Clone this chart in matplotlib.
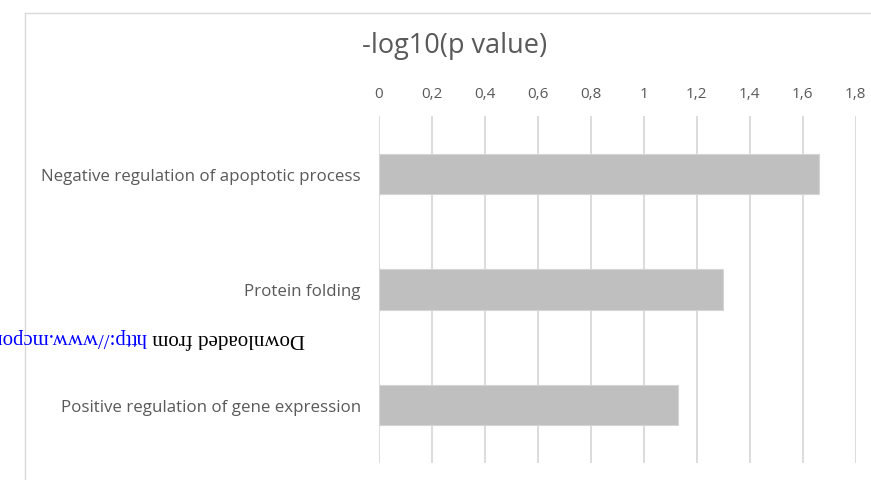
import matplotlib.pyplot as plt
from matplotlib.lines import Line2D

# GO terms and their enrichment scores
terms = ["Negative regulation of apoptotic process",
         "Protein folding",
         "Positive regulation of gene expression"]
scores = [1.662, 1.301, 1.130]

xticks = [0, 0.2, 0.4, 0.6, 0.8, 1.0, 1.2, 1.4, 1.6, 1.8]
xtick_labels = ["0", "0,2", "0,4", "0,6", "0,8", "1", "1,2", "1,4", "1,6", "1,8"]

W, H = 871, 481
fig = plt.figure(figsize=(W / 100, H / 100), dpi=100)
fig.patch.set_facecolor("white")

ax = fig.add_axes([379 / W, 1 - 464 / H, (855.5 - 379) / W, (464 - 117) / H])
ypos = list(range(len(terms)))
ax.barh(ypos, scores, height=0.35, color="#bfbfbf", edgecolor="#d4d4d4",
        linewidth=0.8, zorder=3)
ax.set_ylim(len(terms) - 0.5, -0.5)
ax.set_xlim(0, 1.8)

ax.set_xticks(xticks)
ax.set_xticklabels(xtick_labels)
ax.xaxis.tick_top()
ax.tick_params(axis="x", length=0, pad=11, labelsize=11, labelcolor="#595959")
ax.set_yticks(ypos)
ax.set_yticklabels(terms)
ax.tick_params(axis="y", length=0, pad=13, labelsize=12.2, labelcolor="#595959")
for lbl in ax.get_xticklabels() + ax.get_yticklabels():
    lbl.set_family("Open Sans")

ax.grid(axis="x", color="#d9d9d9", linewidth=1.3, zorder=0)
ax.grid(axis="y", visible=False)
for s in ax.spines.values():
    s.set_visible(False)

fig.text(455 / W, 1 - 46 / H, "-log10(p value)", ha="center", va="center",
         fontsize=19.5, color="#595959", family="Open Sans")

# outer chart border (top and left edges)
fig.add_artist(Line2D([25 / W, 1], [1 - 14 / H, 1 - 14 / H], color="#d9d9d9", lw=1))
fig.add_artist(Line2D([25 / W, 25 / W], [1 - 14 / H, 0], color="#d9d9d9", lw=1))

# upside-down download stamp
t1 = fig.text(305 / W, 1 - 338 / H, "Downloaded from ", rotation=180,
              ha="right", va="center", fontsize=15, color="black",
              family="Liberation Serif")
fig.canvas.draw()
bb = t1.get_window_extent()
fig.text(bb.x0 / W, 1 - 338 / H, "http://www.mcponline.org/", rotation=180,
         ha="right", va="center", fontsize=15, color="#0000ff",
         family="Liberation Serif")

fig.savefig("out.png", dpi=100)
